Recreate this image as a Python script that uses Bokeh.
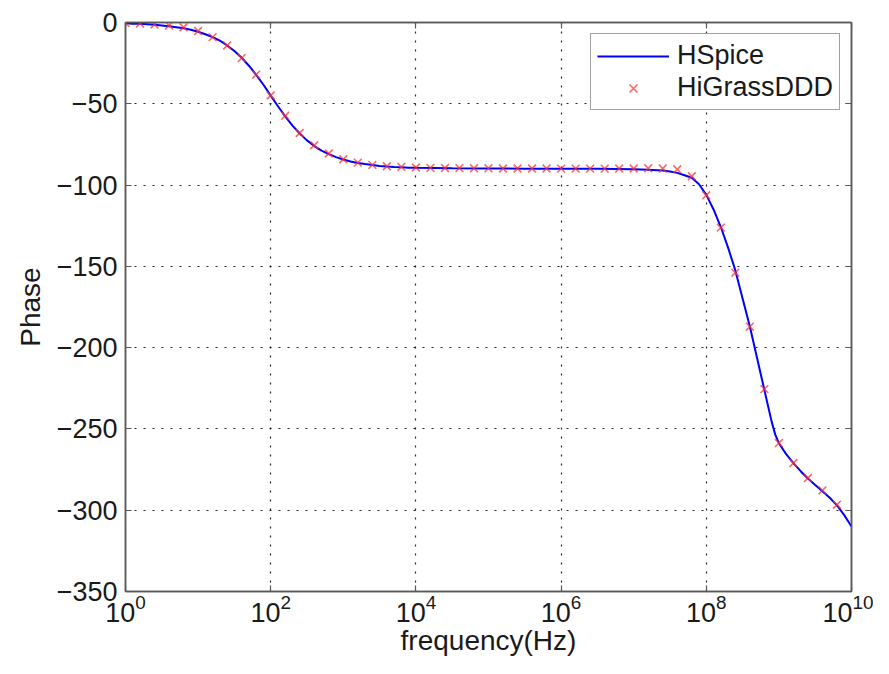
from bokeh.plotting import figure
from bokeh.models import (FixedTicker, LinearAxis, LogAxis, CustomJSTickFormatter,
                          Range1d, Legend, LegendItem)
from bokeh.embed import file_html
from bokeh.resources import INLINE

# ---------------- data ----------------
# HSpice curve: log10(frequency) and phase (deg)
hspice_exp = [0.0, 0.1, 0.2, 0.3, 0.4, 0.5, 0.6, 0.7, 0.8, 0.9,
              1.0, 1.1, 1.2, 1.3, 1.4, 1.5, 1.6, 1.7, 1.8, 1.9,
              2.0, 2.1, 2.2, 2.3, 2.4, 2.5, 2.6, 2.7, 2.8, 2.9,
              3.0, 3.1, 3.2, 3.3, 3.4, 3.5, 3.6, 3.7, 3.8, 3.9,
              4.0, 4.5, 5.0, 5.5, 6.0, 6.5, 7.0, 7.2, 7.4, 7.5,
              7.6, 7.7, 7.8, 7.9, 8.0, 8.1, 8.2, 8.3, 8.4, 8.5,
              8.6, 8.7, 8.8, 8.9, 8.95, 9.0, 9.1, 9.2, 9.3, 9.4,
              9.5, 9.6, 9.7, 9.8, 9.9, 10.0]
hspice_phase = [-0.5, -0.7, -0.8, -1.1, -1.4, -1.8, -2.3, -2.9, -3.6, -4.5,
                -5.7, -7.2, -9.0, -11.2, -14.1, -17.5, -21.7, -26.6, -32.2, -38.3,
                -45.0, -51.5, -57.7, -63.4, -68.3, -72.5, -76.0, -78.8, -81.0, -82.8,
                -84.3, -85.5, -86.4, -87.1, -87.7, -88.2, -88.6, -88.9, -89.1, -89.3,
                -89.4, -89.7, -89.8, -89.9, -89.9, -90.0, -90.2, -90.5, -91.0, -91.6,
                -92.5, -94.0, -95.5, -99.5, -106.0, -115.0, -125.8, -138.5, -152.5, -169.7,
                -187.0, -206.5, -226.0, -245.5, -253.5, -258.8, -265.5, -271.0, -276.0, -280.5,
                -284.5, -288.3, -292.3, -297.0, -303.0, -310.0]

# HiGrassDDD samples: log10(frequency) and phase (deg)
higrass_exp = [0.0, 0.2, 0.4, 0.6, 0.8, 1.0, 1.2, 1.4, 1.6, 1.8,
               2.0, 2.2, 2.4, 2.6, 2.8, 3.0, 3.2, 3.4, 3.6, 3.8,
               4.0, 4.2, 4.4, 4.6, 4.8, 5.0, 5.2, 5.4, 5.6, 5.8,
               6.0, 6.2, 6.4, 6.6, 6.8, 7.0, 7.2, 7.4, 7.6, 7.8,
               8.0, 8.2, 8.4, 8.6, 8.8, 9.0, 9.2, 9.4, 9.6, 9.8]
higrass_phase = [-0.2, -0.6, -1.2, -1.8, -2.9, -5.2, -9.0, -14.1, -21.9, -32.1,
                 -44.9, -57.4, -68.0, -75.5, -80.6, -84.1, -86.2, -87.6, -88.4, -88.8,
                 -89.2, -89.4, -89.5, -89.6, -89.7, -89.7, -89.8, -89.8, -89.8, -89.8,
                 -89.9, -89.9, -89.9, -89.9, -89.8, -89.8, -89.7, -89.8, -90.3, -94.6,
                 -106.3, -126.2, -153.9, -187.1, -225.5, -258.7, -271.0, -280.2, -287.8, -296.6]

x_tick_exp = [0, 2, 4, 6, 8, 10]
y_ticks = [0, -50, -100, -150, -200, -250, -300, -350]

hspice_freq = [10 ** e for e in hspice_exp]
higrass_freq = [10 ** e for e in higrass_exp]
x_ticks = [10 ** e for e in x_tick_exp]

# ---------------- figure ----------------
FONT = "Liberation Sans, Arial, Helvetica, sans-serif"
AXIS_COLOR = "#5a5a5a"

p = figure(width=873, height=658, x_axis_type="log",
           x_range=Range1d(1, 1e10), y_range=Range1d(-350, 0),
           output_backend="svg", toolbar_location=None,
           min_border_left=125, min_border_right=22,
           min_border_top=22, min_border_bottom=66)
p.background_fill_color = "white"
p.border_fill_color = "white"
p.outline_line_color = AXIS_COLOR
p.outline_line_width = 1.5

line = p.line(hspice_freq, hspice_phase, line_color="#0000ff", line_width=2)
pts = p.scatter(higrass_freq, higrass_phase, marker="x", size=11,
                line_color="#ff3333", line_alpha=0.75, line_width=1.6)

# axes
xa = p.xaxis[0]
ya = p.yaxis[0]
xa.ticker = FixedTicker(ticks=x_ticks, minor_ticks=[])
ya.ticker = FixedTicker(ticks=y_ticks, minor_ticks=[])
for ax in (xa, ya):
    ax.axis_line_color = AXIS_COLOR
    ax.axis_line_width = 1.5
    ax.major_tick_line_color = AXIS_COLOR
    ax.major_tick_line_width = 1.2
    ax.major_tick_in = 6
    ax.major_tick_out = 0
    ax.minor_tick_line_color = None
    ax.major_label_text_font = FONT
    ax.major_label_text_font_size = "27px"
    ax.major_label_text_color = "#1a1a1a"
    ax.axis_label_text_font = FONT
    ax.axis_label_text_font_size = "28px"
    ax.axis_label_text_font_style = "normal"
    ax.axis_label_text_color = "#1a1a1a"

xa.axis_label = "frequency(Hz)"
ya.axis_label = "Phase"
xa.major_label_standoff = 2
ya.major_label_standoff = 8
xa.axis_label_standoff = 0
ya.axis_label_standoff = 8

# box ticks on top and right (no labels)
empty = CustomJSTickFormatter(code="return ''")
top = LogAxis(ticker=FixedTicker(ticks=x_ticks, minor_ticks=[]), formatter=empty)
right = LinearAxis(ticker=FixedTicker(ticks=y_ticks, minor_ticks=[]), formatter=empty)
for ax in (top, right):
    ax.axis_line_color = AXIS_COLOR
    ax.axis_line_width = 1.5
    ax.major_tick_line_color = AXIS_COLOR
    ax.major_tick_line_width = 1.2
    ax.major_tick_in = 6
    ax.major_tick_out = 0
    ax.minor_tick_line_color = None
    ax.major_label_text_font_size = "1px"
    ax.major_label_standoff = 0
p.add_layout(top, "above")
p.add_layout(right, "right")

# grid
for g in (p.xgrid[0], p.ygrid[0]):
    g.grid_line_color = "black"
    g.grid_line_alpha = 0.85
    g.grid_line_width = 1.2
    g.grid_line_dash = "2 7"
p.xgrid[0].ticker = FixedTicker(ticks=x_ticks, minor_ticks=[])
p.ygrid[0].ticker = FixedTicker(ticks=y_ticks, minor_ticks=[])

# legend
legend = Legend(items=[LegendItem(label="HSpice", renderers=[line]),
                       LegendItem(label="HiGrassDDD", renderers=[pts])],
                location="top_right")
legend.margin = 11
legend.padding = 6
legend.spacing = 1
legend.glyph_width = 72
legend.glyph_height = 28
legend.label_height = 28
legend.label_standoff = 8
legend.label_text_font = FONT
legend.label_text_font_size = "27px"
legend.label_text_color = "#1a1a1a"
legend.border_line_color = "#444444"
legend.border_line_width = 1.2
legend.background_fill_color = "white"
legend.background_fill_alpha = 1.0
p.add_layout(legend, "center")

open("out.html", "w").write(file_html(p, INLINE))
